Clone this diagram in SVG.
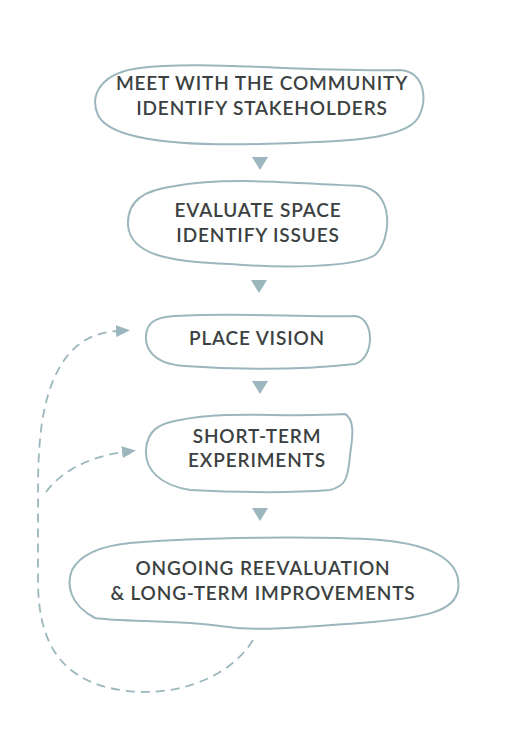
<svg xmlns="http://www.w3.org/2000/svg" width="518" height="738" viewBox="0 0 518 738">
<defs>
<style>
.blob{fill:#fff;stroke:#9bb7bd;stroke-width:2}
.t{font-family:Lato,"Open Sans","DejaVu Sans",sans-serif;font-size:19px;font-weight:600;fill:#3b4141;text-anchor:middle;letter-spacing:0.85px}
.dash{fill:none;stroke:#9bb7bd;stroke-width:1.8;stroke-dasharray:9 6}
.tri{fill:#9bb7bd}
</style>
<marker id="ah" viewBox="0 0 14 12" refX="2" refY="6" markerWidth="14" markerHeight="12" markerUnits="userSpaceOnUse" orient="auto">
<path d="M0,0 L14,6 L0,12 Z" fill="#9bb7bd"/>
</marker>
</defs>
<rect width="518" height="738" fill="#fff"/>
<g id="connectors">
<path class="tri" d="M252,157 L268,157 L260,170 Z"/>
<path class="tri" d="M251,280 L267,280 L259,293 Z"/>
<path class="tri" d="M252,381 L268,381 L260,394 Z"/>
<path class="tri" d="M252,508 L268,508 L260,521 Z"/>
<path class="dash" d="M253,640 C 225,685 160,700 110,688 C 55,675 38,635 38,580 L 38,490 C 38,430 44,385 68,355 C 82,338 100,332 118,331" marker-end="url(#ah)"/>
<path class="dash" d="M46,492 C 62,470 92,456 124,452" marker-end="url(#ah)"/>
</g>
<g id="n1">
<path class="blob" d="M140,68 C 200,60 300,72 400,70 C 425,72 428,100 418,118 C 405,140 340,142 260,144 C 180,146 110,140 98,115 C 88,92 105,72 140,68 Z"/>
<text class="t" x="262" y="90">MEET WITH THE COMMUNITY</text>
<text class="t" x="262" y="115">IDENTIFY STAKEHOLDERS</text>
</g>
<g id="n2">
<path class="blob" d="M175,186 C 230,176 300,184 360,186 C 395,190 392,240 375,255 C 355,268 280,268 230,264 C 170,262 130,255 128,225 C 127,200 145,190 175,186 Z"/>
<text class="t" x="258" y="217">EVALUATE SPACE</text>
<text class="t" x="258" y="242">IDENTIFY ISSUES</text>
</g>
<g id="n3">
<path class="blob" d="M175,316 C 250,312 300,318 355,316 C 375,318 375,358 355,364 C 300,370 240,370 185,366 C 150,364 143,345 147,330 C 150,320 160,317 175,316 Z"/>
<text class="t" x="257" y="345">PLACE VISION</text>
</g>
<g id="n4">
<path class="blob" d="M180,420 C 230,410 280,418 345,414 C 356,420 352,440 350,455 C 348,480 345,486 330,490 C 280,494 230,492 190,490 C 160,485 145,470 146,450 C 147,430 160,423 180,420 Z"/>
<text class="t" x="257" y="443">SHORT-TERM</text>
<text class="t" x="257" y="467">EXPERIMENTS</text>
</g>
<g id="n5">
<path class="blob" d="M130,543 C 200,537 320,536 380,540 C 440,545 462,565 458,590 C 455,610 430,618 360,623 C 300,627 260,632 220,626 C 180,620 120,622 95,618 C 70,605 66,585 72,570 C 80,555 100,546 130,543 Z"/>
<text class="t" x="263" y="575">ONGOING REEVALUATION</text>
<text class="t" x="263" y="600">&amp; LONG-TERM IMPROVEMENTS</text>
</g>
</svg>
